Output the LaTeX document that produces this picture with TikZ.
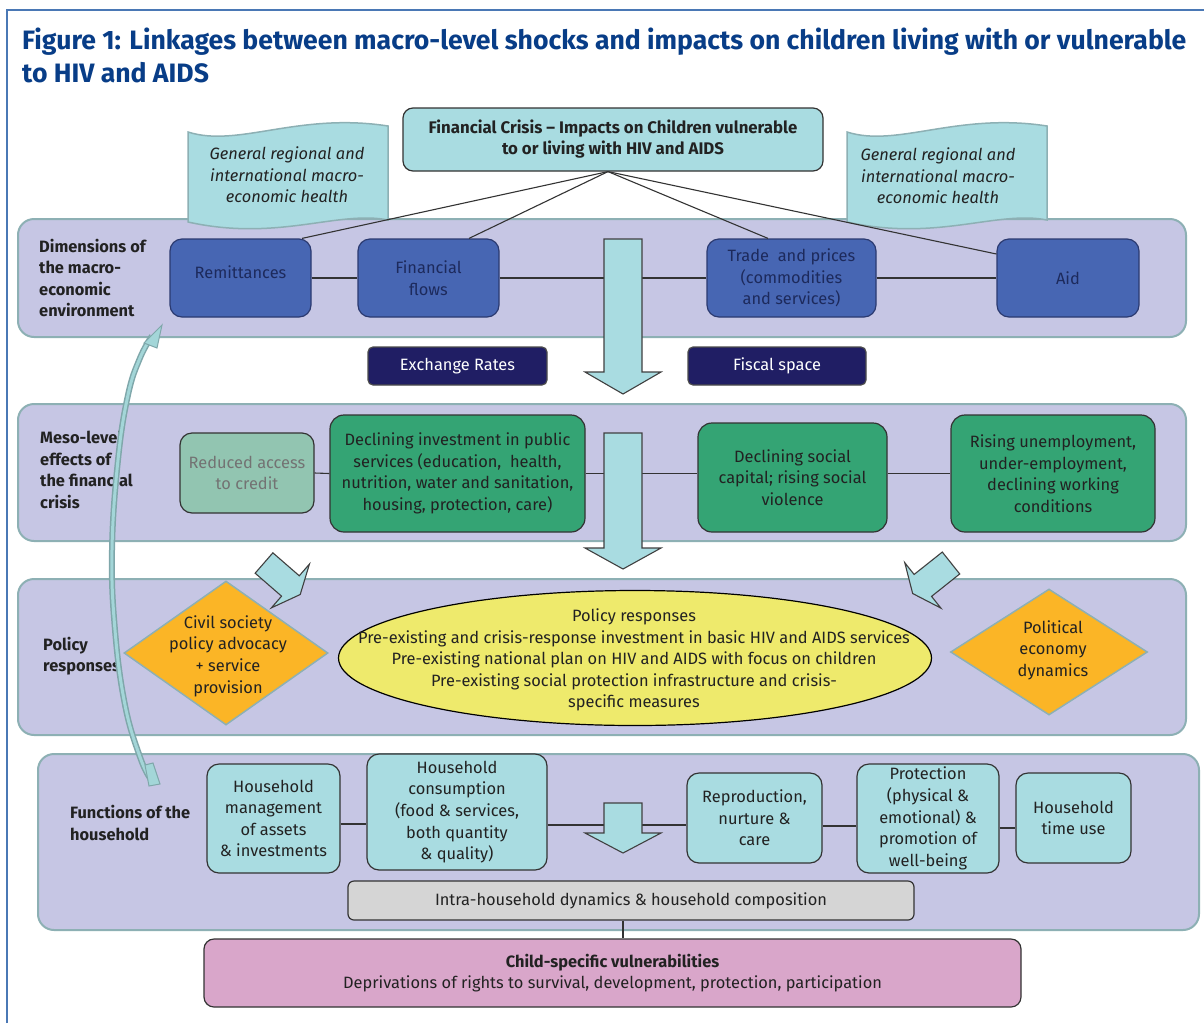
\documentclass[tikz,border=0pt]{standalone}
\usepackage{fontspec}
\setmainfont{Fira Sans}
\usetikzlibrary{shapes.geometric,arrows.meta}
\definecolor{bandfill}{HTML}{C6C6E4}
\definecolor{bandline}{HTML}{8DB0B4}
\definecolor{cyanfill}{HTML}{A9DCE1}
\definecolor{bluefill}{HTML}{4766B3}
\definecolor{bluedraw}{HTML}{2B3A70}
\definecolor{bluetext}{HTML}{1D2A5C}
\definecolor{navy}{HTML}{201E64}
\definecolor{greenfill}{HTML}{34A474}
\definecolor{greenlight}{HTML}{92C5B1}
\definecolor{yellowfill}{HTML}{EEEA6C}
\definecolor{orangefill}{HTML}{FBB526}
\definecolor{grayfill}{HTML}{D5D5D5}
\definecolor{pinkfill}{HTML}{D9A6CA}
\definecolor{titleblue}{HTML}{083D87}
\definecolor{framec}{HTML}{4A78B5}
\definecolor{curveout}{HTML}{7FA7AA}
\definecolor{curvein}{HTML}{A3D6D8}
\definecolor{darktext}{HTML}{222222}
\newcommand\boxat[7]{\node[#1,minimum width={(#5-#3)*1pt},minimum height={(#6-#4)*1pt}] (#2) at ({(#3+#5)/2},{(#4+#6)/2}) {#7};}
\begin{document}
\begin{tikzpicture}[x=1pt,y=-1pt,
  bodyfont/.style={font=\fontsize{16.4}{21.6}\selectfont},
  band/.style={draw=bandline,line width=2pt,fill=bandfill,rounded corners=16pt,inner sep=0pt,outer sep=0pt},
  bandlabel/.style={font=\fontsize{16.4}{21.6}\selectfont\bfseries,text=darktext,align=left,anchor=west,inner sep=0pt},
  cbox/.style={draw=black!80,line width=1.2pt,fill=cyanfill,rounded corners=12pt,inner sep=0pt,align=center,bodyfont,text=darktext},
  bbox/.style={draw=bluedraw,line width=1.2pt,fill=bluefill,rounded corners=12pt,inner sep=0pt,align=center,bodyfont,text=bluetext},
  nbox/.style={draw=black!70,line width=1.2pt,fill=navy,rounded corners=5pt,inner sep=0pt,align=center,bodyfont,text=white},
  gbox/.style={draw=black!80,line width=1.2pt,fill=greenfill,rounded corners=14pt,inner sep=0pt,align=center,bodyfont,text=darktext},
  lgbox/.style={draw=black!80,line width=1.2pt,fill=greenlight,rounded corners=12pt,inner sep=0pt,align=center,bodyfont,text=black!55},
  dia/.style={diamond,draw=bandline,line width=1.5pt,fill=orangefill,inner sep=0pt},
  ell/.style={ellipse,draw=black,line width=1.2pt,fill=yellowfill,inner sep=0pt},
  txt/.style={align=center,bodyfont,text=darktext,inner sep=0pt},
  conn/.style={draw=black!80,line width=1.1pt},
  bigarrow/.style={draw=black!75,line width=1.1pt,fill=cyanfill},
  banner/.style={draw=bandline,line width=1.5pt,fill=cyanfill},
  bannertext/.style={align=center,font=\fontsize{16.4}{21.6}\selectfont\itshape,text=darktext,inner sep=0pt}
]
\useasboundingbox (0,0) rectangle (1204,1023);
\fill[white] (0,0) rectangle (1204,1023);
\draw[framec,line width=1.5pt] (7,1023) -- (7,10) -- (1204,10);

% title
\node[anchor=base west,inner sep=0pt,text=titleblue,font=\fontsize{26.6}{30}\selectfont\bfseries] (title1) at (22,49) {Figure 1: Linkages between macro-level shocks and impacts on children living with or vulnerable};
\node[anchor=base west,inner sep=0pt,text=titleblue,font=\fontsize{26.6}{30}\selectfont\bfseries] (title2) at (22,82) {to HIV and AIDS};

% bands
\boxat{band}{b1}{18}{219}{1186}{337}{}
\boxat{band}{b2}{18}{404}{1186}{541}{}
\boxat{band}{b3}{18}{579}{1186}{735}{}
\boxat{band}{b4}{38}{754}{1199}{930}{}

% banners
\path[banner] (188,132) .. controls (238,148) and (298,112) .. (388,126) -- (388,220) .. controls (338,210) and (278,242) .. (188,222) -- cycle;
\path[banner] (847,132) .. controls (897,148) and (957,112) .. (1047,126) -- (1047,220) .. controls (997,210) and (937,242) .. (847,222) -- cycle;
\node[bannertext] (ban1) at (287,175) {General regional and\\international macro-\\economic health};
\node[bannertext] (ban2) at (938,176) {General regional and\\international macro-\\economic health};

% top box
\boxat{cbox,rounded corners=10pt,font=\fontsize{16.8}{21}\selectfont\bfseries}{top}{403}{108}{823}{171}{Financial Crisis -- Impacts on Children vulnerable\\to or living with HIV and AIDS}

% band labels
\node[bandlabel] (l1) at (39,278) {Dimensions of\\the macro-\\economic\\environment};
\node[bandlabel] (l2) at (40,470) {Meso-level\\effects of\\the financial\\crisis};
\node[bandlabel] (l3) at (43,656) {Policy\\responses};
\node[bandlabel] (l4) at (70,823) {Functions of the\\household};

% band 1 boxes
\boxat{bbox}{rem}{170}{239}{311}{317}{\raisebox{11pt}{Remittances}}
\boxat{bbox}{ff}{358}{239}{499}{317}{Financial\\flows}
\boxat{bbox}{tr}{707}{239}{876}{317}{Trade~ and prices\\(commodities\\and services)}
\boxat{bbox}{aid}{997}{239}{1139}{317}{Aid}
\draw[conn] (rem.east) -- (ff.west);
\draw[conn] (ff.east) -- (tr.west);
\draw[conn] (tr.east) -- (aid.west);

% lines from top box
\draw[conn] (top.south -| 608,0) -- (rem.north -| 302,0);
\draw[conn] (top.south -| 608,0) -- (ff.north -| 469,0);
\draw[conn] (top.south -| 608,0) -- (tr.north -| 768,0);
\draw[conn] (top.south -| 608,0) -- (aid.west |- 0,254);

% exchange / fiscal
\boxat{nbox}{exr}{368}{347}{547}{385}{Exchange Rates}
\boxat{nbox}{fis}{688}{347}{866}{385}{Fiscal space}

% band 2 boxes
\boxat{lgbox}{red}{180}{433}{314}{513}{Reduced access\\to credit}
\boxat{gbox}{dinv}{330}{415}{585}{532}{Declining investment in public\\services (education,~ health,\\nutrition, water and sanitation,\\housing, protection, care)}
\boxat{gbox}{soc}{698}{423}{887}{532}{Declining social\\capital; rising social\\violence}
\boxat{gbox}{rise}{951}{415}{1155}{532}{Rising unemployment,\\under-employment,\\declining working\\conditions}
\draw[conn] (red.east) -- (dinv.west);
\draw[conn] (dinv.east) -- (dinv.east -| soc.west);
\draw[conn] (soc.east |- rise.west) -- (rise.west);

% band 3
\node[dia,minimum width=204pt,minimum height=144pt] (civ) at (226,653) {};
\node[txt] (civt) at (228,656) {Civil society\\policy advocacy\\+ service\\provision};
\node[ell,minimum width=593pt,minimum height=135pt] (pol) at (635,658) {};
\node[txt] (polt) at (634,660) {Policy responses\\Pre-existing and crisis-response investment in basic HIV and AIDS services\\Pre-existing national plan on HIV and AIDS with focus on children\\Pre-existing social protection infrastructure and crisis-\\specific measures};
\node[dia,minimum width=197pt,minimum height=126pt] (pe) at (1049,652) {};
\node[txt] (pet) at (1053,650) {Political\\economy\\dynamics};

% band 4 boxes
\boxat{cbox}{mgmt}{207}{764}{340}{873}{Household\\management\\of assets\\\& investments}
\boxat{cbox}{cons}{367}{754}{547}{870}{Household\\consumption\\(food \& services,\\both quantity\\\& quality)}
\boxat{cbox}{rep}{687}{773}{822}{863}{Reproduction,\\nurture \&\\care}
\boxat{cbox}{prot}{857}{764}{999}{873}{Protection\\(physical \&\\emotional) \&\\promotion of\\well-being}
\boxat{cbox}{tim}{1016}{773}{1131}{863}{Household\\time use}
\draw[conn] (mgmt.east |- 0,824) -- (cons.west |- 0,824);
\draw[conn] (cons.east |- 0,825) -- (rep.west |- 0,825);
\draw[conn] (rep.east |- 0,826) -- (prot.west |- 0,826);
\draw[conn,line width=1.6pt] (prot.east |- 0,828) -- (tim.west |- 0,828);

\boxat{cbox,fill=grayfill,rounded corners=6pt}{intra}{348}{881}{914}{920}{Intra-household dynamics \& household composition}
\boxat{cbox,fill=pinkfill,rounded corners=10pt}{child}{204}{939}{1021}{1007}{\textbf{Child-specific vulnerabilities}\\Deprivations of rights to survival, development, protection, participation}
\draw[conn] (intra.south -| 623,0) -- (child.north -| 623,0);

% big arrows
\path[bigarrow] (604,239) -- (642,239) -- (642,372) -- (661,372) -- (623,394) -- (585,372) -- (604,372) -- cycle;
\path[bigarrow] (604,433) -- (642,433) -- (642,548) -- (661,548) -- (623,569) -- (585,548) -- (604,548) -- cycle;
\path[bigarrow] (604,803) -- (642,803) -- (642,833) -- (661,833) -- (623,853) -- (585,833) -- (604,833) -- cycle;

% small bent block arrows
\begin{scope}[shift={(264,563)},rotate=-41]
\path[bigarrow] (0,-13.5) -- (35,-13.5) -- (35,-29) -- (48,0) -- (35,29) -- (35,13.5) -- (0,13.5) -- cycle;
\end{scope}
\begin{scope}[shift={(951,563)},rotate=218.5]
\path[bigarrow] (0,-14) -- (36,-14) -- (36,-29) -- (49,0) -- (36,29) -- (36,14) -- (0,14) -- cycle;
\end{scope}

% curved feedback arrow
\draw[curveout,line width=6pt] plot[smooth,tension=0.7] coordinates {(150,778) (140,757) (125,705) (115,630) (112,550) (118,460) (128,395) (140,358) (152,336)};
\draw[curvein,line width=3pt] plot[smooth,tension=0.7] coordinates {(150,778) (140,757) (125,705) (115,630) (112,550) (118,460) (128,395) (140,358) (152,336)};
\path[draw=curveout,line width=1pt,fill=curvein] (144,343) -- (162,325) -- (157,348) -- cycle;
\path[draw=curveout,line width=1pt,fill=curvein] (145,765) -- (149,786) -- (160,784) -- (153,763) -- cycle;
\end{tikzpicture}
\end{document}
